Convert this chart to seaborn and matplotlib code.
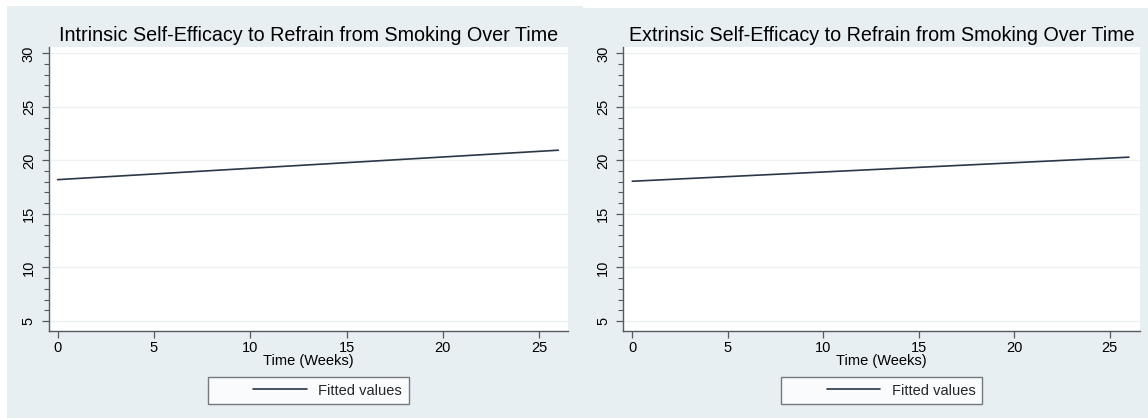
import matplotlib
matplotlib.use("Agg")
import matplotlib.pyplot as plt
from matplotlib.patches import Rectangle
from matplotlib.ticker import MultipleLocator
from matplotlib.legend_handler import HandlerLine2D
import seaborn as sns
import pandas as pd

# Fitted linear trends of self-efficacy scores over the study period
weeks = [0, 26]
intrinsic_fit = [18.2, 20.95]
extrinsic_fit = [18.05, 20.3]

titles = [
    "Intrinsic Self-Efficacy to Refrain from Smoking Over Time",
    "Extrinsic Self-Efficacy to Refrain from Smoking Over Time",
]
x_label = "Time (Weeks)"
legend_label = "Fitted values"
x_ticks = [0, 5, 10, 15, 20, 25]
y_ticks = [5, 10, 15, 20, 25, 30]

sns.set_theme(style="white")
plt.rcParams["font.family"] = ["Liberation Sans", "DejaVu Sans"]

W, H = 1148, 418
fig = plt.figure(figsize=(W / 100, H / 100), dpi=100)
fig.patch.set_facecolor("white")

panel_bg = "#e8eff2"
line_col = "#2a3748"
axis_col = "#555a60"


class KeyOnRight(HandlerLine2D):
    """Legend key whose line sits in the right part of a wide key area."""
    frac = 0.58

    def create_artists(self, legend, orig_handle, xdescent, ydescent,
                       width, height, fontsize, trans):
        arts = super().create_artists(legend, orig_handle, xdescent, ydescent,
                                      width, height, fontsize, trans)
        x1 = width - xdescent
        x0 = x1 - width * self.frac
        for a in arts:
            yd = a.get_ydata()
            if len(yd) >= 2:
                a.set_data([x0, x1], [yd[0], yd[0]])
        return arts


# panel backgrounds (pixel boxes: x0, x1, top)
for x0, x1, top in [(7, 583, 6), (583, 1148, 8)]:
    fig.add_artist(Rectangle((x0 / W, 0), (x1 - x0) / W, (H - top) / H,
                             transform=fig.transFigure, facecolor=panel_bg,
                             edgecolor="none", zorder=0))

axes_boxes = [
    (49, 568, 47, 330.7, (-0.45, 26.5)),
    (623.3, 1140, 47, 330.7, (-0.47, 26.58)),
]

for (x0, x1, top, bot, xlim), title, yvals in zip(axes_boxes, titles,
                                                   [intrinsic_fit, extrinsic_fit]):
    ax = fig.add_axes([x0 / W, (H - bot) / H, (x1 - x0) / W, (bot - top) / H])
    ax.set_facecolor("white")
    df = pd.DataFrame({"week": weeks, "fit": yvals})
    sns.lineplot(data=df, x="week", y="fit", ax=ax, color=line_col,
                 linewidth=1.2, label=legend_label)
    ax.set_xlim(*xlim)
    ax.set_ylim(4.09, 30.59)
    ax.set_xticks(x_ticks)
    ax.set_yticks(y_ticks)
    ax.yaxis.set_minor_locator(MultipleLocator(1))
    ax.grid(axis="y", which="major", color="#eef1f3", linewidth=1.0)
    ax.set_axisbelow(True)
    for s in ["top", "right"]:
        ax.spines[s].set_visible(False)
    for s in ["left", "bottom"]:
        ax.spines[s].set_color(axis_col)
        ax.spines[s].set_linewidth(1.0)
    ax.tick_params(axis="both", which="major", direction="out", length=5,
                   width=0.9, color=axis_col, labelsize=10.5, labelcolor="black",
                   left=True, bottom=True)
    ax.tick_params(axis="x", which="major", pad=2.7)
    ax.tick_params(axis="y", which="major", pad=4.5)
    ax.tick_params(axis="y", which="minor", direction="out", length=3.5,
                   width=0.8, color=axis_col, left=True)
    for lab in ax.get_yticklabels():
        lab.set_rotation(90)
        lab.set_va("center")
    ax.set_ylabel("")
    ax.set_xlabel(x_label, fontsize=10.5, color="black")
    ax.xaxis.set_label_coords(0.5, -0.082)
    ax.set_title(title, fontsize=14.2, color="black", pad=4)
    handles, labels = ax.get_legend_handles_labels()
    leg = ax.legend(handles, labels, loc="upper center",
                    bbox_to_anchor=(0.5, -0.163),
                    handler_map={type(handles[0]): KeyOnRight()},
                    frameon=True, fancybox=False, fontsize=10.5,
                    handlelength=6.3, borderpad=0.45, handletextpad=0.8,
                    borderaxespad=0)
    leg.get_frame().set_edgecolor(axis_col)
    leg.get_frame().set_linewidth(1.0)
    leg.get_frame().set_facecolor("white")

fig.savefig("out.png", dpi=100, facecolor=fig.get_facecolor())
